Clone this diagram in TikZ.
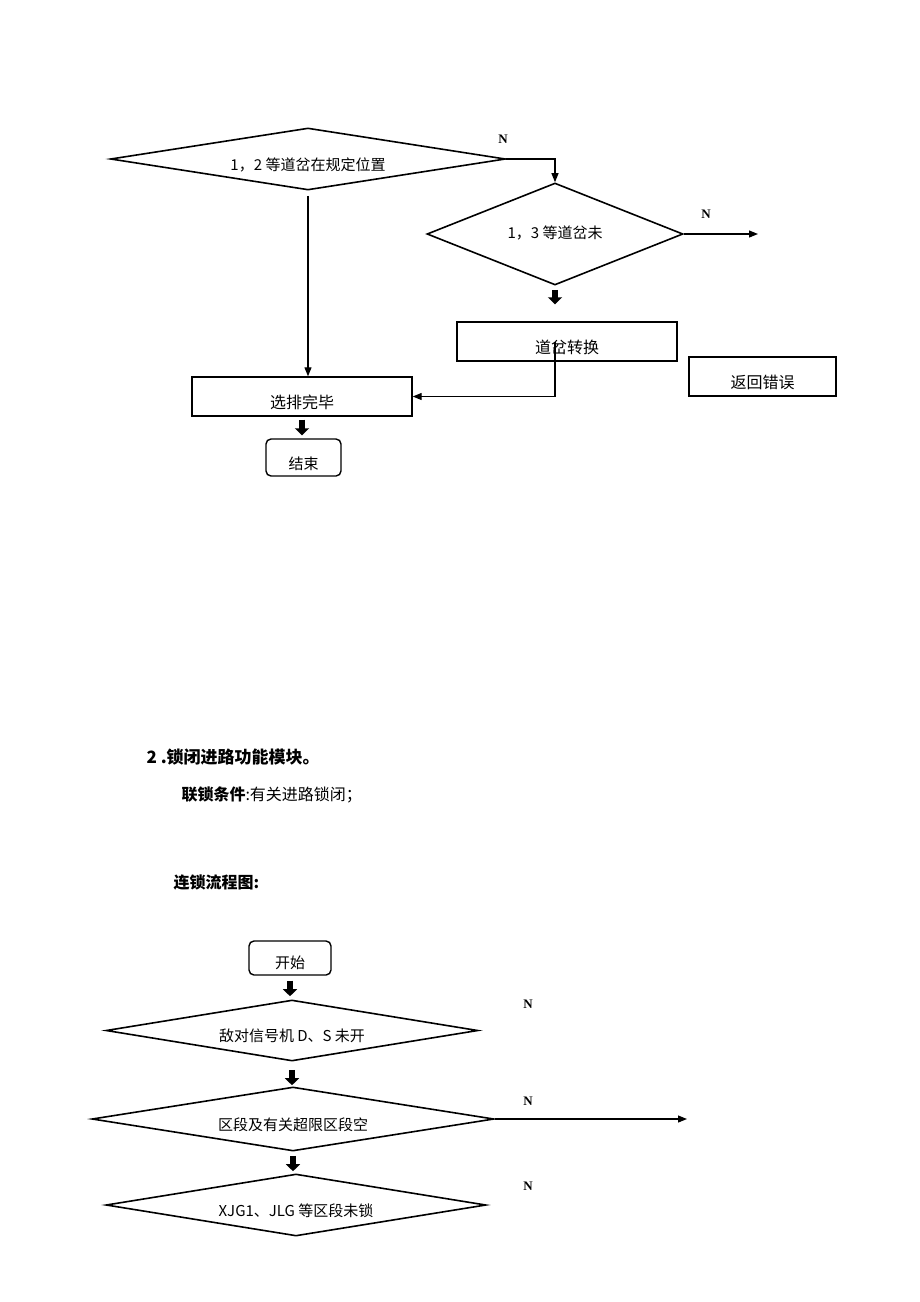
\documentclass[tikz,border=0pt]{standalone}
\usepackage{fontspec}
\setmainfont{Liberation Serif}
\newfontfamily\cjk{Noto Sans CJK SC}
\usetikzlibrary{shapes.geometric,arrows.meta,positioning}

\tikzset{
  decision/.style={draw, diamond, line width=1.6pt, inner sep=0pt, aspect=6,
    text height=24pt, text depth=2pt, font=\cjk\fontsize{15}{15}\selectfont},
  process/.style={draw, rectangle, line width=1.4pt, inner sep=0pt,
    text height=25pt, text depth=2pt, font=\cjk\fontsize{16}{16}\selectfont},
  terminal/.style={process, rounded corners=5pt},
  flow/.style={-{Triangle[width=7pt,length=9pt]}, line width=1.2pt},
  fat/.style={-{Triangle[width=14pt,length=7pt]}, line width=5.5pt},
  nlabel/.style={font=\bfseries\fontsize{13}{13}\selectfont},
  heading/.style={anchor=west, font=\cjk\fontsize{17}{17}\selectfont},
}

\begin{document}
\begin{tikzpicture}[x=1pt, y=-1pt]
  \useasboundingbox (0,0) rectangle (920,1302);

  % route selection
  \node [decision, minimum width=395pt, minimum height=62pt] (sel) at (308,159) {1，2 等道岔在规定位置};
  \node [decision, minimum width=256pt, minimum height=102pt, text height=11pt] (chk) at (555,234) {1，3 等道岔未};
  \node [process, minimum width=220pt, minimum height=39pt] (turn) at (567,341.5) {道岔转换};
  \node [process, minimum width=147pt, minimum height=39pt] (err) at (762.5,376.5) {返回错误};
  \node [process, minimum width=220pt, minimum height=39pt] (done) at (302,396.5) {选排完毕};
  \node [terminal, minimum width=75pt, minimum height=37pt, font=\cjk\fontsize{15}{15}\selectfont] (end) at (303.5,457.5) {结束};

  \node [nlabel] (n1) at (503,139) {N};
  \node [nlabel] (n2) at (706,214) {N};
  \coordinate (chkout) at (758,234);

  \draw [flow] (sel.east) -| (chk.north);
  \draw [flow] (chk.east) -- (chkout);
  \draw [fat, shorten <=4pt, shorten >=17pt] (chk.south) -- (chk.south |- turn.north);
  \draw [flow] (chk.south |- turn.center) |- (done.east);
  \draw [flow, shorten <=5pt] (sel.south) -- (sel.south |- done.north);
  \draw [fat, shorten <=3pt, shorten >=3pt] (done.south) -- (done.south |- end.north);

  % locking module
  \node [heading] (sec) at (143,757) {\bfseries 2 .锁闭进路功能模块。};
  \node [heading, font=\cjk\fontsize{16}{16}\selectfont] (cond) at (178,795) {\textbf{联锁条件}:有关进路锁闭；};
  \node [heading, font=\cjk\fontsize{16}{16}\selectfont] (chart) at (170,882) {\textbf{连锁流程图:}};

  \node [terminal, minimum width=82pt, minimum height=34pt, text height=22pt, font=\cjk\fontsize{15}{15}\selectfont] (start) at (290,958) {开始};
  \node [decision, minimum width=372pt, minimum height=61pt] (hostile) at (292,1030.5) {敌对信号机 D、S 未开};
  \node [decision, minimum width=402pt, minimum height=64pt] (sect) at (293,1119) {区段及有关超限区段空};
  \node [decision, minimum width=380pt, minimum height=62pt] (lock) at (296,1205) {XJG1、JLG 等区段未锁};

  \node [nlabel] (n3) at (528,1004) {N};
  \node [nlabel] (n4) at (528,1101) {N};
  \node [nlabel] (n5) at (528,1186) {N};
  \coordinate (sectout) at (687,1119);

  \draw [fat, shorten <=5pt, shorten >=3pt] (start.south) -- (start.south |- hostile.north);
  \draw [fat, shorten <=8pt, shorten >=1pt] (hostile.south) -- (hostile.south |- sect.north);
  \draw [flow] (sect.east) -- (sectout);
  \draw [fat, shorten <=4pt, shorten >=2pt] (sect.south) -- (sect.south |- lock.north);
\end{tikzpicture}
\end{document}
